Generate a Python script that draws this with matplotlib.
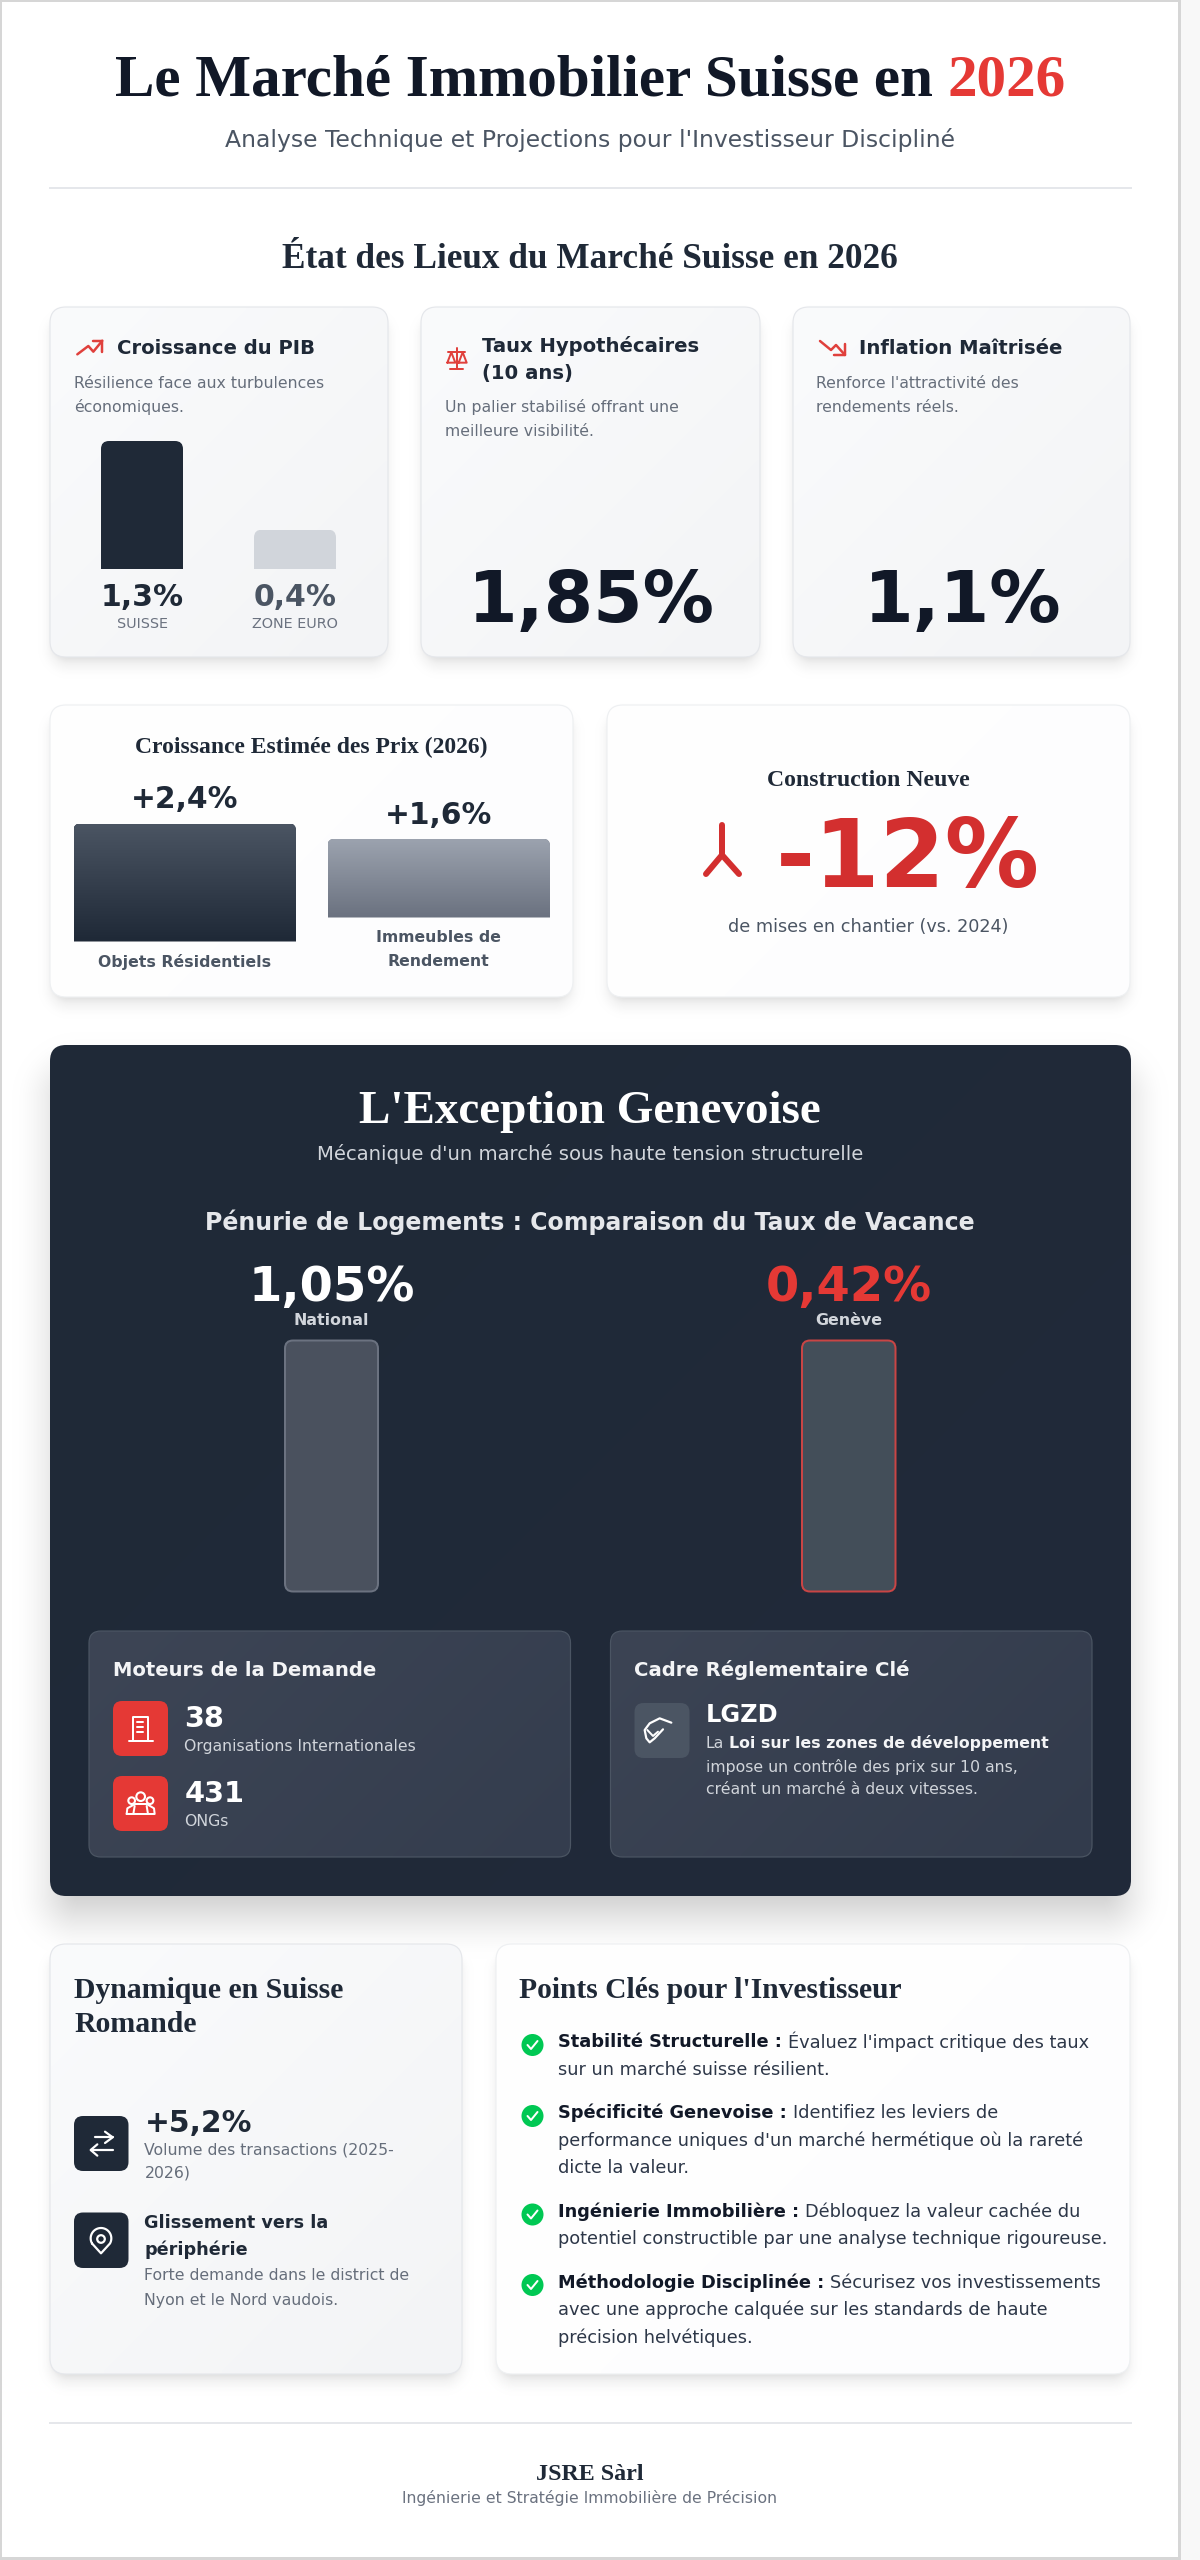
import numpy as np
import matplotlib
matplotlib.use("Agg")
import matplotlib.pyplot as plt
from matplotlib.patches import FancyBboxPatch, Circle, PathPatch
from matplotlib.path import Path
from matplotlib.colors import to_rgb

# ---------- data ----------
gdp_labels = ["SUISSE", "ZONE EURO"]
gdp_values = [1.3, 0.4]
gdp_text = ["1,3%", "0,4%"]
price_labels = [["Objets Résidentiels"], ["Immeubles de", "Rendement"]]
price_values = [2.4, 1.6]
price_text = ["+2,4%", "+1,6%"]
vacancy_labels = ["National", "Genève"]
vacancy_text = ["1,05%", "0,42%"]
mortgage_text = "1,85%"
inflation_text = "1,1%"
construction_text = "-12%"

W, H = 1200, 2560
SERIF = "Liberation Serif"
SANS = "DejaVu Sans"
INK = "#111827"
DARK = "#1f2937"
RED = "#e53935"
MUTED = "#666e7b"
SMALL = 15.7

fig = plt.figure(figsize=(W / 100, H / 100), dpi=100, facecolor="white")
ax = fig.add_axes([0, 0, 1, 1], zorder=0)
ax.set_axis_off()

# ---------- canvas with soft shadows ----------
canvas = np.ones((H, W, 3))
yy, xx = np.mgrid[0:H, 0:W]
xx = xx + 0.5
yy = yy + 0.5


def shadow(x0, y0, x1, y1, r, dy, blur, spread, alpha):
    x0, x1, y0, y1 = x0 - spread, x1 + spread, y0 - spread + dy, y1 + spread + dy
    cx, cy = (x0 + x1) / 2, (y0 + y1) / 2
    qx = np.abs(xx - cx) - (x1 - x0) / 2 + r
    qy = np.abs(yy - cy) - (y1 - y0) / 2 + r
    d = np.hypot(np.maximum(qx, 0), np.maximum(qy, 0)) + np.minimum(np.maximum(qx, qy), 0) - r
    t = np.clip(0.5 - d / (2 * blur), 0, 1)
    t = t * t * (3 - 2 * t)
    a = (alpha * t)[..., None]
    canvas[:] = canvas * (1 - a)


CARDS_1 = [(50, 307, 388, 657), (421, 307, 760, 657), (793, 307, 1130, 657)]
CARDS_2 = [(50, 705, 573, 997), (607, 705, 1130, 997)]
CARDS_3 = [(50, 1944, 462, 2374), (496, 1944, 1130, 2374)]
PANEL = (50, 1045, 1131, 1896)
for c in CARDS_1 + CARDS_2 + CARDS_3:
    shadow(*c, 16, 10, 15, -3, 0.10)
    shadow(*c, 16, 4, 6, -2, 0.05)
shadow(*PANEL, 16, 25, 50, -12, 0.25)
canvas[:, 1181:] = np.minimum(canvas[:, 1181:], to_rgb("#f8f8f8"))
edge = to_rgb("#d6d6d6")
canvas[:, 1178:1181] = edge
canvas[:2, :1181] = edge
canvas[:, :2] = edge
canvas[2557:, :1181] = edge
ax.imshow(canvas, extent=(0, W, H, 0), aspect="auto", interpolation="nearest", zorder=0)


def rbox(x0, y0, x1, y1, r, fc="none", ec="none", lw=1.0, z=2):
    p = FancyBboxPatch((x0, y0), x1 - x0, y1 - y0,
                       boxstyle=f"round,pad=0,rounding_size={r}",
                       fc=fc, ec=ec, lw=lw * 0.72, zorder=z)
    ax.add_patch(p)
    return p


def card(x0, y0, x1, y1, r, c0, c1, ec="#e5e7eb", z=2):
    a = np.array(to_rgb(c0))
    b = np.array(to_rgb(c1))
    u, v = np.meshgrid(np.linspace(0, 1, 64), np.linspace(0, 1, 64))
    t = ((u * (x1 - x0) + v * (y1 - y0)) / ((x1 - x0) + (y1 - y0)))[..., None]
    im = ax.imshow(a * (1 - t) + b * t, extent=(x0, x1, y1, y0), aspect="auto",
                   interpolation="bilinear", zorder=z)
    clip = rbox(x0, y0, x1, y1, r, fc="none", ec=ec, lw=1.2, z=z + 0.1)
    im.set_clip_path(clip)


def T(x, y, s, px, color=INK, weight="normal", family=SANS, ha="left", va="center"):
    return ax.text(x, y, s, fontsize=px * 0.72, color=color, fontweight=weight,
                   family=family, ha=ha, va=va, zorder=6)


def width(s, px, weight, family):
    t = ax.text(0, 0, s, fontsize=px * 0.72, fontweight=weight, family=family)
    w = t.get_window_extent(fig.canvas.get_renderer()).width
    t.remove()
    return w


def mixed(x, y, segs, px, family=SANS, center=False, space=0.318):
    """segs: (text, colour, weight)"""
    ws = [width(s, px, wt, family) + px * space * (i < len(segs) - 1) for i, (s, c, wt) in enumerate(segs)]
    if center:
        x = x - sum(ws) / 2
    for (s, c, wt), w in zip(segs, ws):
        T(x, y, s, px, c, wt, family)
        x += w


def L(pts, color, lw=2.0, z=7):
    xs, ys = zip(*pts)
    ax.plot(xs, ys, color=color, lw=lw * 0.72, solid_capstyle="round",
            solid_joinstyle="round", zorder=z)


def zoom_pts(ox, oy, pts):
    return [(ox + a / 3, oy + b / 3) for a, b in pts]


def bar_axes(x0, y0, x1, y1):
    a = fig.add_axes([x0 / W, 1 - y1 / H, (x1 - x0) / W, (y1 - y0) / H], zorder=1)
    a.set_axis_off()
    a.patch.set_alpha(0)
    return a


def rounded_top(a, rect, rx, ry):
    x0, w, h = rect.get_x(), rect.get_width(), rect.get_height()
    x1 = x0 + w
    verts = [(x0, 0), (x0, h - ry), (x0, h), (x0 + rx, h), (x1 - rx, h), (x1, h), (x1, h - ry), (x1, 0), (x0, 0)]
    codes = [Path.MOVETO, Path.LINETO, Path.CURVE3, Path.CURVE3, Path.LINETO, Path.CURVE3, Path.CURVE3,
             Path.LINETO, Path.CLOSEPOLY]
    return PathPatch(Path(verts, codes), transform=a.transData, fc="none", ec="none")


# ---------- header ----------
mixed(590, 82, [("Le Marché Immobilier Suisse en", INK, "bold"), ("2026", RED, "bold")], 59.2,
      family=SERIF, center=True, space=0.25)
T(590, 140.5, "Analyse Technique et Projections pour l'Investisseur Discipliné", 23.5, "#4b5563", ha="center")
ax.plot([50, 1131], [188, 188], color="#e5e7eb", lw=2 * 0.72, zorder=3)
T(590, 260, "État des Lieux du Marché Suisse en 2026", 35.2, DARK, "bold", SERIF, ha="center")

# ---------- row 1 ----------
for c in CARDS_1:
    card(*c, 16, "#fafbfc", "#f3f4f6")

# trend up
L(zoom_pts(60, 320, [(52, 103), (85, 78), (100, 95), (127, 62)]), "#e0403c", 2.5)
L(zoom_pts(60, 320, [(100, 62), (127, 62), (127, 97)]), "#e0403c", 2.5)
T(117, 348.5, "Croissance du PIB", 19.7, DARK, "bold")
T(74, 383, "Résilience face aux turbulences", SMALL, MUTED)
T(74, 407, "économiques.", SMALL, MUTED)

# GDP bars
gdp_ax = bar_axes(101, 441, 336, 569)
gdp_bars = gdp_ax.bar(range(len(gdp_values)), gdp_values, width=82 / 153, color=[DARK, "#d1d5db"])
gdp_ax.set_xlim(-41 / 153, 1 + 41 / 153)
gdp_ax.set_ylim(0, 1.3)
for b in gdp_bars:
    b.set_clip_path(rounded_top(gdp_ax, b, 8 / 153, 8 / (128 / 1.3)))
for i, (lab, txt) in enumerate(zip(gdp_labels, gdp_text)):
    cx = 142 + 153 * i
    T(cx, 597, txt, 30, [DARK, "#4b5563"][i], "bold", ha="center")
    T(cx, 624, lab, 14.4, "#6b7280", ha="center")

# scales icon
c = "#e0403c"
L(zoom_pts(430, 320, [(80, 85), (80, 147)]), c, 2)
L(zoom_pts(430, 320, [(60, 147), (100, 147)]), c, 2)
L(zoom_pts(430, 320, [(55, 97), (105, 97)]), c, 2)
L(zoom_pts(430, 320, [(52, 128), (64, 97), (76, 128), (52, 128)]), c, 2)
L(zoom_pts(430, 320, [(86, 128), (98, 97), (110, 128), (86, 128)]), c, 2)
T(482, 346, "Taux Hypothécaires", 19.7, DARK, "bold")
T(482, 373.5, "(10 ans)", 19.7, DARK, "bold")
T(445, 407, "Un palier stabilisé offrant une", SMALL, MUTED)
T(445, 431, "meilleure visibilité.", SMALL, MUTED)
T(591, 603, mortgage_text, 71.3, INK, "bold", ha="center")

# trend down
L([(820, 341), (831, 350), (836, 345), (845, 355)], "#e0403c", 2.5)
L([(834, 355), (845, 355), (845, 344)], "#e0403c", 2.5)
T(859, 348.5, "Inflation Maîtrisée", 19.7, DARK, "bold")
T(816, 383, "Renforce l'attractivité des", SMALL, MUTED)
T(816, 407, "rendements réels.", SMALL, MUTED)
T(963, 603, inflation_text, 71.3, INK, "bold", ha="center")

# ---------- row 2 ----------
for c in CARDS_2:
    card(*c, 16, "#ffffff", "#fdfdfe", ec="#eef0f2")
T(311.5, 747.5, "Croissance Estimée des Prix (2026)", 23.6, DARK, "bold", SERIF, ha="center")

PX_PER_UNIT = 118 / 2.4
price_geom = [(73.5, 296, 941.5, "#4b5563", DARK), (327.5, 550, 917.5, "#9ca3af", "#6b7280")]
for v, txt, labs, (x0, x1, ybase, c0, c1) in zip(price_values, price_text, price_labels, price_geom):
    a = bar_axes(x0, ybase - v * PX_PER_UNIT, x1, ybase)
    bars = a.bar([0], [v], width=1, color=c1)
    rect = bars[0]
    a.set_xlim(-0.5, 0.5)
    a.set_ylim(0, v)
    grad = np.linspace(0, 1, 64)[:, None, None]
    img = (1 - grad) * np.array(to_rgb(c0))[None, None, :] + grad * np.array(to_rgb(c1))[None, None, :]
    im = a.imshow(img, extent=(-0.5, 0.5, 0, v), aspect="auto", interpolation="bilinear", zorder=3)
    a.set_xlim(-0.5, 0.5)
    a.set_ylim(0, v)
    clip = rounded_top(a, rect, 7 / (x1 - x0), 7 / PX_PER_UNIT)
    rect.set_clip_path(clip)
    im.set_clip_path(clip)
    cx = (x0 + x1) / 2
    T(cx, ybase - v * PX_PER_UNIT - 23.5, txt, 29.7, DARK, "bold", ha="center")
    for j, s in enumerate(labs):
        T(cx, ybase + 20.5 + 23.5 * j, s, 15.8, "#4b5563", "bold", ha="center")

T(868.5, 781, "Construction Neuve", 23.7, DARK, "bold", SERIF, ha="center")
L([(722, 825), (722, 855)], "#d32f2f", 6)
L([(706, 874), (722, 855), (739, 874)], "#d32f2f", 6)
T(908, 861, construction_text, 94, "#d32f2f", "bold", ha="center")
T(868.5, 927.5, "de mises en chantier (vs. 2024)", 17.6, "#4b5563", ha="center")

# ---------- dark panel ----------
card(*PANEL, 16, DARK, "#212a3a", ec="none")
T(590, 1112, "L'Exception Genevoise", 47.2, "white", "bold", SERIF, ha="center")
T(590, 1154.5, "Mécanique d'un marché sous haute tension structurelle", 19.7, "#d1d5db", ha="center")
T(590, 1222, "Pénurie de Logements : Comparaison du Taux de Vacance", 23.6, "#e5e7eb", "bold", ha="center")

gauge_geom = [(285, 378, "#4a515e", "#6b7280", "white"), (802, 895.5, "#434e59", "#c94545", RED)]
for lab, txt, (x0, x1, fc, ec, col) in zip(vacancy_labels, vacancy_text, gauge_geom):
    cx = (x0 + x1) / 2
    T(cx, 1287, txt, 48, col, "bold", ha="center")
    T(cx, 1320.5, lab, 15.9, "#d1d5db", "bold", ha="center")
    rbox(x0, 1340.5, x1, 1591.5, 8, fc=fc, ec=ec, lw=2, z=3)

card(89, 1631, 570.5, 1857, 12, "#3d4555", "#343d4e", ec="#4b5563", z=3)
card(610.5, 1631, 1092, 1857, 12, "#3c4454", "#323b4c", ec="#4b5563", z=3)

T(113, 1670.5, "Moteurs de la Demande", 19.7, "#f3f4f6", "bold")
rbox(113, 1701, 168, 1756, 9, fc=RED, z=4)
rbox(113, 1776, 168, 1831, 9, fc=RED, z=4)
T(184.5, 1719, "38", 28.8, "white", "bold")
T(184.5, 1747, "Organisations Internationales", SMALL, "#d1d5db")
T(184.5, 1794, "431", 28.8, "white", "bold")
T(184.5, 1821, "ONGs", SMALL, "#d1d5db")

# building icon
L(zoom_pts(90, 1680, [(128, 180), (128, 110), (175, 110), (175, 180)]), "white", 2)
L(zoom_pts(90, 1680, [(116, 182), (190, 182)]), "white", 2)
for yb in (125, 140, 155):
    L(zoom_pts(90, 1680, [(142, yb), (160, yb)]), "white", 2)
# people icon
for (a, b, r) in [(152, 350, 13), (125, 362, 10), (180, 362, 10)]:
    ax.add_patch(Circle((90 + a / 3, 1680 + b / 3), r / 3, fc="none", ec="white", lw=1.5, zorder=7))
L(zoom_pts(90, 1680, [(110, 402), (112, 385), (135, 372), (170, 372), (192, 385), (194, 402), (110, 402)]), "white", 2)
L(zoom_pts(90, 1680, [(130, 402), (134, 378)]), "white", 2)
L(zoom_pts(90, 1680, [(174, 402), (170, 378)]), "white", 2)

T(634.5, 1670.5, "Cadre Réglementaire Clé", 19.7, "#f3f4f6", "bold")
rbox(634.5, 1703, 689.5, 1758, 9, fc="#4b5563", z=4)
# handshake icon
L(zoom_pts(618, 1680, [(160, 128), (125, 115), (95, 130), (80, 150), (85, 175), (95, 187), (110, 175), (135, 148)]), "white", 2.2)
L(zoom_pts(618, 1680, [(88, 150), (105, 168), (120, 155)]), "white", 2)
T(705.5, 1715, "LGZD", 24, "white", "bold")
mixed(705.5, 1743, [("La", "#d1d5db", "normal"), ("Loi sur les zones de développement", "#f3f4f6", "bold")], SMALL)
T(705.5, 1767, "impose un contrôle des prix sur 10 ans,", SMALL, "#d1d5db")
T(705.5, 1790, "créant un marché à deux vitesses.", SMALL, "#d1d5db")

# ---------- bottom cards ----------
card(*CARDS_3[0], 16, "#fafbfc", "#f3f4f6")
card(*CARDS_3[1], 16, "#ffffff", "#fdfdfe", ec="#eef0f2")

T(74, 1990, "Dynamique en Suisse", 29.7, DARK, "bold", SERIF)
T(74, 2025, "Romande", 29.7, DARK, "bold", SERIF)
rbox(74, 2116, 128.5, 2171, 9, fc=DARK, z=4)
rbox(74, 2212.5, 128.5, 2268, 9, fc=DARK, z=4)
# exchange arrows
L(zoom_pts(60, 2100, [(105, 112), (158, 112)]), "white", 2.2)
L(zoom_pts(60, 2100, [(135, 95), (158, 112), (135, 129)]), "white", 2.2)
L(zoom_pts(60, 2100, [(158, 150), (92, 150)]), "white", 2.2)
L(zoom_pts(60, 2100, [(112, 133), (92, 150), (112, 167)]), "white", 2.2)
# pin icon
th = np.deg2rad(np.linspace(-210, 30, 40))
pin = [(123 + 31 * np.cos(t), 415 + 31 * np.sin(t)) for t in th] + [(123, 460)]
pin.append(pin[0])
L(zoom_pts(60, 2100, pin), "white", 2.2)
ax.add_patch(Circle((60 + 123 / 3, 2100 + 417 / 3), 3.8, fc="none", ec="white", lw=1.6, zorder=7))

T(144.5, 2123, "+5,2%", 29.7, DARK, "bold")
T(144.5, 2150, "Volume des transactions (2025-", SMALL, MUTED)
T(144.5, 2173.5, "2026)", SMALL, MUTED)
T(144.5, 2222.5, "Glissement vers la", 17.6, DARK, "bold")
T(144.5, 2250, "périphérie", 17.6, DARK, "bold")
T(144.5, 2276, "Forte demande dans le district de", SMALL, MUTED)
T(144.5, 2300, "Nyon et le Nord vaudois.", SMALL, MUTED)

T(519, 1990, "Points Clés pour l'Investisseur", 29.5, DARK, "bold", SERIF)
BODY = "#2d3748"
points = [
    (2045, [2042, 2070], "Stabilité Structurelle :", ["Évaluez l'impact critique des taux", "sur un marché suisse résilient."]),
    (2116, [2113, 2140.5, 2168], "Spécificité Genevoise :", ["Identifiez les leviers de", "performance uniques d'un marché hermétique où la rareté", "dicte la valeur."]),
    (2214.5, [2211.5, 2239], "Ingénierie Immobilière :", ["Débloquez la valeur cachée du", "potentiel constructible par une analyse technique rigoureuse."]),
    (2285, [2282.5, 2310, 2337.5], "Méthodologie Disciplinée :", ["Sécurisez vos investissements", "avec une approche calquée sur les standards de haute", "précision helvétiques."]),
]
for yc, ys, head, lines in points:
    ax.add_patch(Circle((532.5, yc), 11, fc="#00c853", ec="none", zorder=6))
    L([(527.5, yc), (531, yc + 4), (537.5, yc - 4)], "white", 2)
    mixed(558.5, ys[0], [(head, INK, "bold"), (lines[0], BODY, "normal")], 17.8)
    for y, s in zip(ys[1:], lines[1:]):
        T(558.5, y, s, 17.8, BODY)

# ---------- footer ----------
ax.plot([50, 1131], [2423, 2423], color="#e5e7eb", lw=2 * 0.72, zorder=3)
T(590, 2474, "JSRE Sàrl", 24, DARK, "bold", SERIF, ha="center")
T(590, 2498.5, "Ingénierie et Stratégie Immobilière de Précision", 15.6, "#6b7280", ha="center")

ax.set_xlim(0, W)
ax.set_ylim(H, 0)
fig.savefig("out.png", dpi=100, facecolor="white")
